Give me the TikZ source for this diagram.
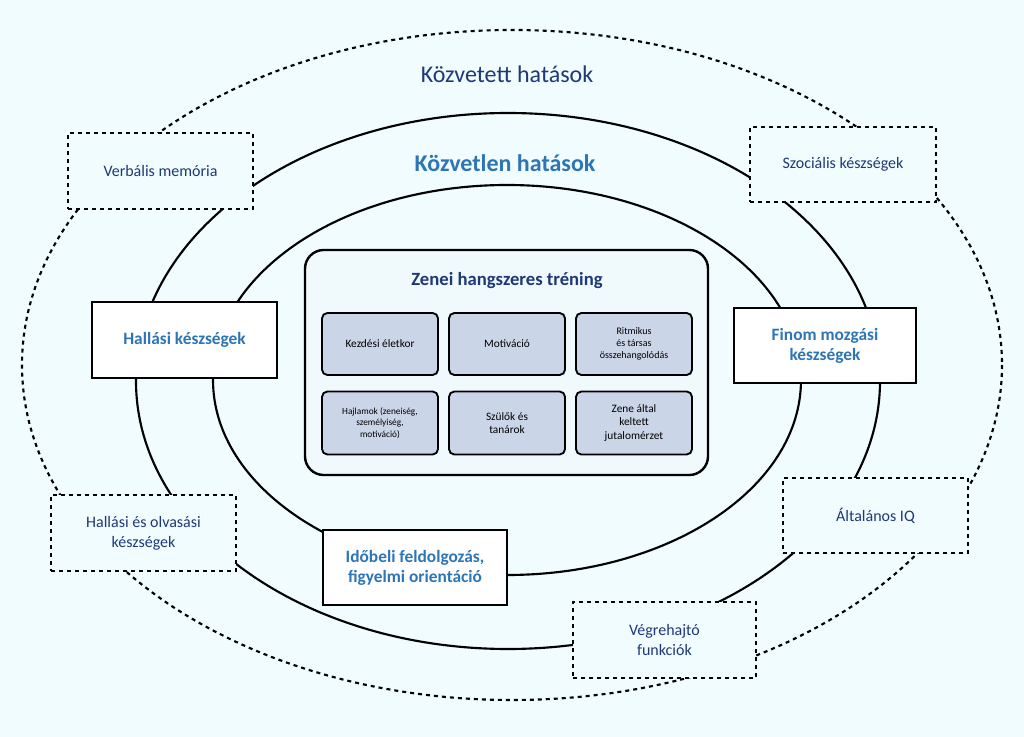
\documentclass[tikz,border=0pt]{standalone}
\usepackage{fontspec}
\setmainfont{Carlito}
\begin{document}
\begin{tikzpicture}[x=0.75pt,y=-0.75pt,
  dk/.style={text=dkblue},
  sb/.style={draw,line width=1.6pt,fill=white,text=ltblue,font=\bfseries\fontsize{13}{15}\selectfont,align=center},
  db/.style={draw,dashed,line width=1.6pt,fill=bg,text=dkblue,font=\fontsize{12}{15}\selectfont,align=center},
  small/.style={draw,line width=1.4pt,rounded corners=4pt,fill=cellfill,align=center,font=\fontsize{8.5}{10}\selectfont}]
\definecolor{bg}{RGB}{240,252,253}
\definecolor{dkblue}{RGB}{31,56,120}
\definecolor{ltblue}{RGB}{46,117,182}
\definecolor{cellfill}{RGB}{203,213,232}
\definecolor{boxfill}{RGB}{240,249,252}
\fill[bg] (0,0) rectangle (1024,737);
\useasboundingbox (0,0) rectangle (1024,737);
\draw[dashed,line width=1.6pt] (512,365) ellipse [x radius=490,y radius=335];
\draw[line width=1.6pt] (508,381) ellipse [x radius=372,y radius=268];
\draw[line width=1.6pt] (507,380) ellipse [x radius=294,y radius=195];
\node[dk,font=\fontsize{18}{20}\selectfont] (kv) at (507,74) {Közvetett hatások};
\node[text=ltblue,font=\bfseries\fontsize{18}{20}\selectfont] (kl) at (505,163) {Közvetlen hatások};
\draw[line width=1.8pt,rounded corners=14pt,fill=boxfill] (305,250) rectangle (708,475);
\node[dk,font=\bfseries\fontsize{14}{16}\selectfont] (zt) at (507,281) {Zenei hangszeres tréning};
\node[small,minimum width=116*0.75pt,minimum height=62*0.75pt] (c1) at (380,344) {Kezdési életkor};
\node[small,minimum width=116*0.75pt,minimum height=62*0.75pt] (c2) at (507,344) {Motiváció};
\node[small,minimum width=116*0.75pt,minimum height=62*0.75pt,font=\fontsize{7.5}{9}\selectfont] (c3) at (634,344) {Ritmikus\\és társas\\összehangolódás};
\node[small,minimum width=116*0.75pt,minimum height=63*0.75pt,font=\fontsize{7}{8.5}\selectfont] (c4) at (380,423) {Hajlamok (zeneiség,\\személyiség,\\motiváció)};
\node[small,minimum width=116*0.75pt,minimum height=63*0.75pt] (c5) at (507,423) {Szülők és\\tanárok};
\node[small,minimum width=116*0.75pt,minimum height=63*0.75pt] (c6) at (634,423) {Zene által\\keltett\\jutalomérzet};
\node[sb,minimum width=185*0.75pt,minimum height=76*0.75pt] (h1) at (184.5,340) {Hallási készségek};
\node[sb,minimum width=182*0.75pt,minimum height=75*0.75pt] (h2) at (825,345.5) {Finom mozgási\\készségek};
\node[sb,minimum width=184*0.75pt,minimum height=75*0.75pt] (h3) at (415,567.5) {Időbeli feldolgozás,\\figyelmi orientáció};
\node[db,minimum width=185*0.75pt,minimum height=76*0.75pt] (d1) at (160.5,171) {Verbális memória};
\node[db,minimum width=186*0.75pt,minimum height=75*0.75pt] (d2) at (843,164.5) {Szociális készségek};
\node[db,minimum width=185*0.75pt,minimum height=76*0.75pt] (d3) at (143.5,533) {Hallási és olvasási\\készségek};
\node[db,minimum width=185*0.75pt,minimum height=75*0.75pt] (d4) at (875.5,515.5) {Általános IQ};
\node[db,minimum width=183*0.75pt,minimum height=76*0.75pt] (d5) at (664.5,640) {Végrehajtó\\funkciók};
\end{tikzpicture}
\end{document}
